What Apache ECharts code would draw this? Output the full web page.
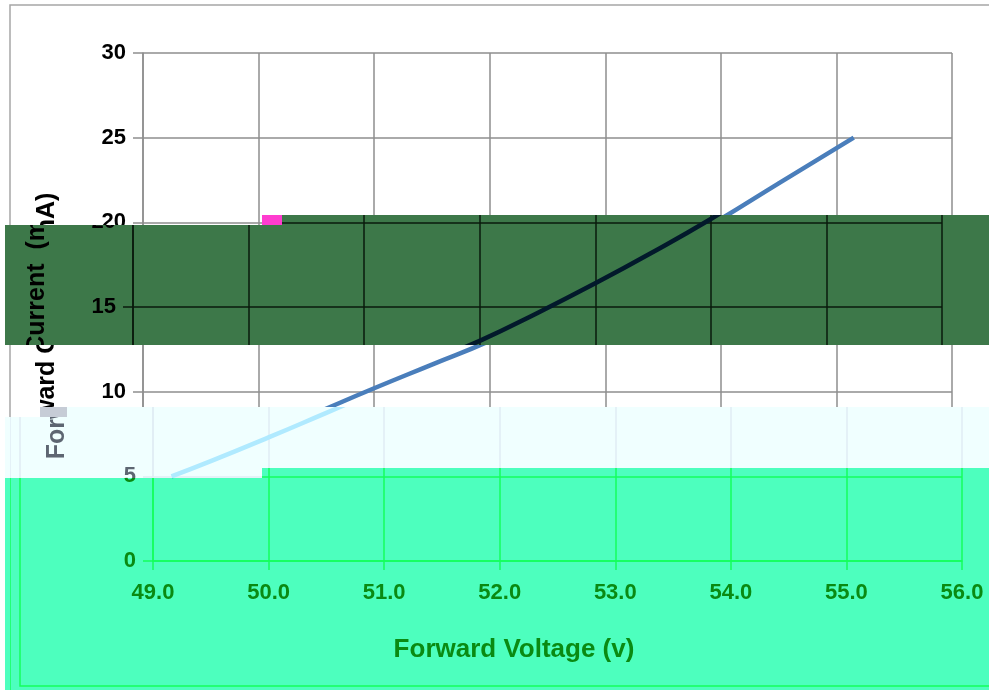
<!DOCTYPE html>
<html><head><meta charset="utf-8">
<script src="https://cdn.jsdelivr.net/npm/echarts@6/dist/echarts.min.js"></script>
<style>
html,body{margin:0;padding:0;background:#fff;overflow:hidden}
#wrap{position:relative;width:989px;height:690px;overflow:hidden;background:#fff}
.strip{position:absolute;overflow:hidden}
.inner{position:absolute;width:989px;height:690px}
.blot{position:absolute}
</style></head><body><div id="wrap"></div>
<script>
// ---- data ----
const voltage = [49.16, 49.5, 50.0, 50.5, 51.0, 51.5, 52.0, 52.5, 53.0, 53.5, 54.0, 54.5, 55.15];
const current = [5.0, 5.9, 7.3, 8.75, 10.2, 11.6, 13.0, 14.65, 16.4, 18.25, 20.2, 22.3, 25.0];
const xMin = 49, xMax = 56, xStep = 1;
const yMin = 0, yMax = 30, yStep = 5;
const xTitle = 'Forward Voltage (v)';
const yTitle = 'Forward Current  (mA)';

const FONT = '"Liberation Sans", Arial, sans-serif';

const themes = {
  base:  {bg:'#ffffff', grid:'#8e8e8e', label:'#000000', title:'#000000', line:'#4a7ebb', border:'#a6a6a6', extra:[]},
  dark:  {bg:'#3d7849', grid:'#0a1a0c', label:'#000000', title:'#000000', line:'#02192b', border:'#0a1a0c', extra:[994]},
  light: {bg:'#f0ffff', grid:'#e0ecf4', label:'#5d6672', title:'#5d6672', line:'#b0eaff', border:'#e0ecf4', extra:[0]},
  green: {bg:'#4dffbe', grid:'#14ff5c', label:'#0a8a12', title:'#0a8a12', line:'#4a7ebb', border:'#14ff5c', extra:[0]}
};

function buildOption(t) {
  const graphic = [
    {type:'rect', silent:true, z:-1, shape:{x:10, y:5, width:1010, height:681},
     style:{fill:null, stroke:t.border, lineWidth:1.5}},
    {type:'text', silent:true, x:47, y:326, rotation:Math.PI/2,
     style:{text:yTitle, fill:t.title, font:'bold 25px ' + FONT, align:'center', verticalAlign:'middle'}},
    {type:'text', silent:true, x:504, y:650,
     style:{text:xTitle, fill:t.title, font:'bold 26px ' + FONT, align:'center', verticalAlign:'middle'}}
  ];
  t.extra.forEach(x => graphic.push({type:'line', silent:true, shape:{x1:x, y1:0, x2:x, y2:690},
    style:{stroke:t.border, lineWidth:1.5}}));
  return {
    animation:false,
    backgroundColor:t.bg,
    grid:{left:143, right:37, top:53, bottom:129},
    xAxis:{type:'value', min:xMin, max:xMax, interval:xStep,
      axisLine:{show:true, onZero:false, lineStyle:{color:t.grid, width:1.5}},
      axisTick:{show:true, length:9, lineStyle:{color:t.grid, width:1.5}},
      axisLabel:{color:t.label, fontFamily:FONT, fontWeight:'bold', fontSize:22, margin:21,
        formatter:v => v.toFixed(1)},
      splitLine:{show:true, lineStyle:{color:t.grid, width:1.5}}},
    yAxis:{type:'value', min:yMin, max:yMax, interval:yStep,
      axisLine:{show:true, lineStyle:{color:t.grid, width:1.5}},
      axisTick:{show:true, length:10, lineStyle:{color:t.grid, width:1.5}},
      axisLabel:{color:t.label, fontFamily:FONT, fontWeight:'bold', fontSize:22, margin:17},
      splitLine:{show:true, lineStyle:{color:t.grid, width:1.5}}},
    series:[{type:'line', smooth:true, showSymbol:false,
      data:voltage.map((v,i) => [v, current[i]]),
      lineStyle:{color:t.line, width:4.5}}],
    graphic:graphic
  };
}

const wrap = document.getElementById('wrap');
// [left, top, width, height, dx, theme]
const strips = [
  [0, 0, 989, 690, 0, 'base'],
  [5, 225, 257, 120, -10, 'dark'],
  [262, 215, 727, 130, -10, 'dark'],
  [5, 417, 35, 61, 10, 'light'],
  [40, 407, 222, 71, 10, 'light'],
  [262, 407, 727, 61, 10, 'light'],
  [5, 478, 257, 212, 10, 'green'],
  [262, 468, 727, 222, 10, 'green']
];
strips.forEach(s => {
  const [l, tp, w, h, dx, th] = s;
  const d = document.createElement('div');
  d.className = 'strip';
  d.style.left = l + 'px'; d.style.top = tp + 'px';
  d.style.width = w + 'px'; d.style.height = h + 'px';
  d.style.background = themes[th].bg;
  const inner = document.createElement('div');
  inner.className = 'inner';
  inner.style.left = (dx - l) + 'px'; inner.style.top = (-tp) + 'px';
  d.appendChild(inner);
  wrap.appendChild(d);
  const c = echarts.init(inner, null, {width:989, height:690, renderer:'canvas'});
  c.setOption(buildOption(themes[th]));
});
// small glitch blotches
[[262, 215, 20, 10, '#ff3ccf'], [40, 407, 27, 10, '#c6ccd6']].forEach(b => {
  const d = document.createElement('div');
  d.className = 'blot';
  d.style.left = b[0] + 'px'; d.style.top = b[1] + 'px';
  d.style.width = b[2] + 'px'; d.style.height = b[3] + 'px';
  d.style.background = b[4];
  wrap.appendChild(d);
});
</script></body></html>
